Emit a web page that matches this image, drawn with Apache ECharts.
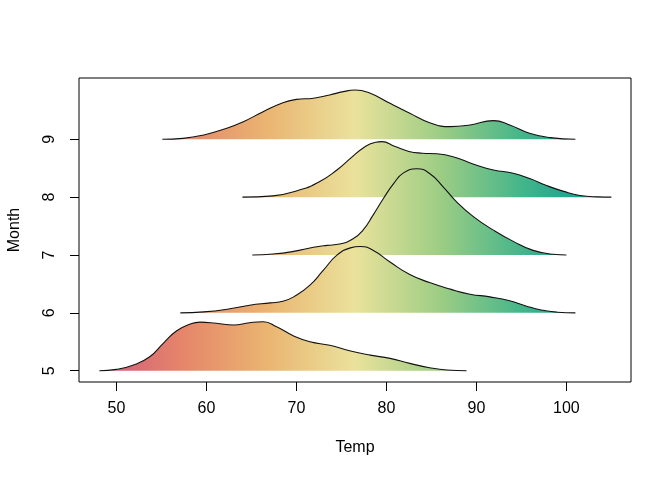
<!DOCTYPE html>
<html>
<head>
<meta charset="utf-8">
<script src="https://cdn.jsdelivr.net/npm/echarts@6/dist/echarts.min.js"></script>
<style>
html, body { margin: 0; padding: 0; background: #fff; }
#main { width: 672px; height: 480px; }
</style>
</head>
<body>
<div id="main"></div>
<script>
// months drawn from the top ridge down, so lower ridges sit on top
var months = [9, 8, 7, 6, 5];
var xTicks = [50, 60, 70, 80, 90, 100];
var yTicks = [5, 6, 7, 8, 9];
var tempRange = [48, 105];

// ridge heights, in units of one month row
var temp5 = [48.1, 50.0, 51.9, 53.7, 55.2, 56.7, 58.2, 59.3, 61.1, 63.0, 64.8, 66.3, 67.8, 69.7, 71.5, 73.7, 75.9, 78.2, 80.4, 82.6, 84.8, 86.7, 88.9];
var dens5 = [0, 0.023, 0.098, 0.242, 0.473, 0.69, 0.807, 0.84, 0.82, 0.79, 0.83, 0.847, 0.76, 0.6, 0.5, 0.44, 0.346, 0.27, 0.213, 0.127, 0.052, 0.012, 0];

var temp6 = [57.1, 59.7, 62.3, 64.8, 67.1, 68.5, 70.0, 71.5, 73.0, 74.5, 76.0, 77.1, 78.5, 80.4, 82.6, 84.8, 87.1, 89.3, 91.5, 93.7, 95.5, 97.2, 99.0, 101.0];
var dens6 = [0, 0.017, 0.063, 0.133, 0.173, 0.2, 0.305, 0.478, 0.738, 0.997, 1.124, 1.147, 1.084, 0.88, 0.663, 0.524, 0.41, 0.323, 0.277, 0.21, 0.12, 0.05, 0.012, 0];

var temp7 = [65.1, 67.4, 69.7, 71.9, 73.4, 74.8, 76.3, 77.4, 78.5, 79.7, 80.8, 81.9, 83.4, 84.8, 86.3, 87.8, 89.7, 91.9, 94.1, 96.3, 98.5, 100.0];
var dens7 = [0, 0.017, 0.063, 0.133, 0.167, 0.19, 0.28, 0.43, 0.686, 0.985, 1.233, 1.42, 1.49, 1.41, 1.18, 0.92, 0.66, 0.43, 0.236, 0.08, 0.012, 0];

var temp8 = [64.0, 67.4, 70.4, 72.6, 74.5, 76.0, 77.5, 78.8, 79.5, 80.9, 82.5, 84.0, 85.6, 87.4, 89.7, 91.9, 94.1, 96.0, 97.8, 99.7, 101.5, 103.5, 105.0];
var dens8 = [0, 0.023, 0.127, 0.27, 0.47, 0.67, 0.86, 0.95, 0.96, 0.88, 0.79, 0.76, 0.75, 0.70, 0.57, 0.47, 0.415, 0.317, 0.2, 0.1, 0.03, 0.005, 0];

var temp9 = [55.1, 57.4, 59.7, 61.9, 64.1, 66.3, 68.5, 70.0, 71.9, 73.7, 75.2, 76.5, 78.2, 80.4, 82.6, 84.8, 87.1, 89.3, 91.9, 93.7, 95.9, 98.2, 101.0];
var dens9 = [0, 0.017, 0.075, 0.173, 0.305, 0.478, 0.634, 0.69, 0.71, 0.767, 0.824, 0.853, 0.795, 0.622, 0.45, 0.288, 0.219, 0.248, 0.323, 0.248, 0.104, 0.029, 0];

var palette = ['#CF597E', '#E6866A', '#EAB672', '#EAE29C', '#9DCD84', '#40B48B', '#089392'];

var ridges = {5: [temp5, dens5], 6: [temp6, dens6], 7: [temp7, dens7], 8: [temp8, dens8], 9: [temp9, dens9]};
var font = '"Liberation Sans", Arial, Helvetica, sans-serif';

var chart = echarts.init(document.getElementById('main'));

var series = months.map(function (m) {
    var t = ridges[m][0], d = ridges[m][1];
    return {
        name: String(m),
        type: 'line',
        smooth: 0.5,
        symbol: 'none',
        silent: true,
        data: t.map(function (v, i) { return [v, m + d[i]]; }),
        lineStyle: { color: '#111', width: 1.1 },
        areaStyle: { origin: m, opacity: 1, color: '#ccc' }
    };
});

var option = {
    animation: false,
    backgroundColor: '#fff',
    grid: {
        left: 79, right: 41, top: 78, bottom: 98,
        show: true, borderColor: '#000', borderWidth: 1,
        containLabel: false, outerBoundsMode: 'none'
    },
    xAxis: {
        type: 'value',
        min: 45.84, max: 107.18,
        name: 'Temp',
        nameLocation: 'middle',
        nameGap: 58,
        nameTextStyle: { color: '#000', fontSize: 16, fontFamily: font },
        splitLine: { show: false },
        axisLine: { show: false, onZero: false },
        axisTick: { show: true, length: 9, customValues: xTicks, lineStyle: { color: '#000' } },
        axisLabel: { customValues: xTicks, margin: 19, color: '#000', fontSize: 16, fontFamily: font }
    },
    yAxis: {
        type: 'value',
        min: 4.805, max: 10.06,
        name: 'Month',
        nameLocation: 'middle',
        nameGap: 56,
        nameTextStyle: { color: '#000', fontSize: 16, fontFamily: font },
        splitLine: { show: false },
        axisLine: { show: false, onZero: false },
        axisTick: { show: true, length: 9, customValues: yTicks, lineStyle: { color: '#000' } },
        axisLabel: { customValues: yTicks, rotate: 90, margin: 21, color: '#000', fontSize: 16, fontFamily: font }
    },
    series: series
};

chart.setOption(option);

// gradient spans the data's temperature range, placed through the x axis scale
var px0 = chart.convertToPixel({ xAxisIndex: 0 }, tempRange[0]);
var px1 = chart.convertToPixel({ xAxisIndex: 0 }, tempRange[1]);
var fill = {
    type: 'linear', x: px0, y: 0, x2: px1, y2: 0, global: true,
    colorStops: palette.map(function (c, i) { return { offset: i / (palette.length - 1), color: c }; })
};
chart.setOption({
    series: months.map(function () { return { areaStyle: { color: fill } }; })
});
</script>
</body>
</html>
